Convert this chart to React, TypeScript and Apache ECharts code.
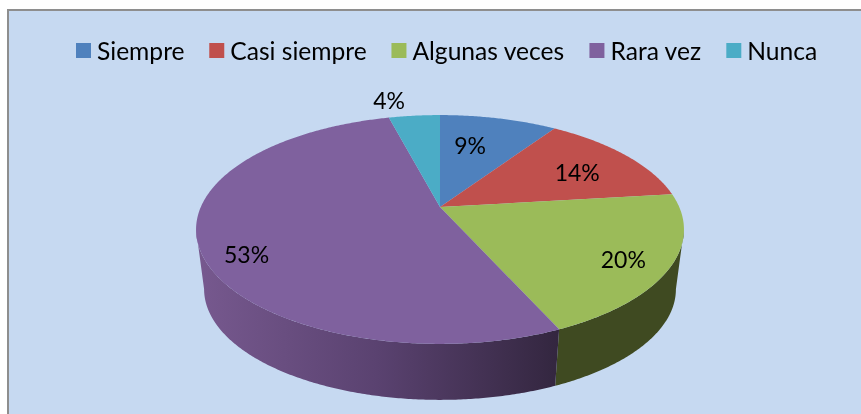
import React, { useEffect, useRef } from "react";
import * as echarts from "echarts";

const categories = ["Siempre", "Casi siempre", "Algunas veces", "Rara vez", "Nunca"];
const shares = [9.4, 13.7, 20.2, 52.6, 4.1];

const topColors = ["#4f81bd", "#c0504d", "#9bbb59", "#7f619e", "#4bacc6"];
const labelNudges = [[-13, 3], [4, 3], [27, 11], [-28, 20], [-32, -40]];

const FONT = "Lato, Carlito, sans-serif";
const APEX_X = 440;
const APEX_Y = 207;
const RADIUS_X = 239.2;
const RADIUS_Y = 110;
const PERSPECTIVE = 0.1965;
const WALL_DROP = 60.5;
const WALL_SCALE = 0.967;
const WALL_FROM = 101.3;
const WALL_TO = 258.7;

function project(deg: number, f: number, scale = 1, drop = 0): number[] {
  const t = (deg * Math.PI) / 180;
  const w = 1 + PERSPECTIVE * Math.cos(t) * f;
  return [
    APEX_X + (scale * RADIUS_X * Math.sin(t) * f) / w,
    APEX_Y + drop - (scale * RADIUS_Y * Math.cos(t) * f) / w,
  ];
}

function arc(from: number, to: number, scale = 1, drop = 0): number[][] {
  const n = Math.max(2, Math.ceil(Math.abs(to - from) * 2));
  const pts: number[][] = [];
  for (let i = 0; i <= n; i++) pts.push(project(from + ((to - from) * i) / n, 1, scale, drop));
  return pts;
}

function wallFill(index: number): any {
  if (index === 3) {
    return {
      type: "linear", x: 0, y: 0, x2: 1, y2: 0,
      colorStops: [
        { offset: 0, color: "#77598f" },
        { offset: 0.5, color: "#5a4270" },
        { offset: 1, color: "#33263f" },
      ],
    };
  }
  return ["#2f4a6f", "#6f2e2c", "#3f4a21", "#4b3a60", "#2c6574"][index];
}

export default function App() {
  const ref = useRef<HTMLDivElement>(null);
  useEffect(() => {
    const chart = echarts.init(ref.current!, null, { renderer: "svg" });
    const total = shares.reduce((a, b) => a + b, 0);
    const series = categories.map((name, idx) => ({
      type: "custom",
      name,
      coordinateSystem: "none",
      silent: true,
      itemStyle: { color: topColors[idx] },
      data: [[shares[idx]]],
      renderItem: (_p: any, api: any) => {
        const before = shares.slice(0, idx).reduce((a, b) => a + b, 0);
        const start = (before / total) * 360;
        const end = start + (api.value(0) / total) * 360;
        const children: any[] = [];
        const wFrom = Math.max(start, WALL_FROM);
        const wTo = Math.min(end, WALL_TO);
        if (wTo > wFrom) {
          children.push({
            type: "polygon",
            shape: {
              points: [...arc(wFrom, wTo), ...arc(wTo, wFrom, WALL_SCALE, WALL_DROP)],
            },
            style: { fill: wallFill(idx), stroke: null },
          });
        }
        children.push({
          type: "polygon",
          shape: { points: [[APEX_X, APEX_Y], ...arc(start, end)] },
          style: { fill: topColors[idx], stroke: null },
        });
        const mid = project((start + end) / 2, 0.7);
        children.push({
          type: "text",
          style: {
            text: `${Math.round((api.value(0) / total) * 100)}%`,
            x: mid[0] + labelNudges[idx][0],
            y: mid[1] + labelNudges[idx][1],
            fill: "#000",
            font: `23px ${FONT}`,
            textAlign: "center",
            textVerticalAlign: "middle",
          },
        });
        return { type: "group", children };
      },
    }));
    chart.setOption({
      animation: false,
      graphic: [
        {
          type: "rect",
          shape: { x: 8, y: 10, width: 870, height: 420 },
          style: { fill: "#c6d9f1", stroke: "#8e8e8e", lineWidth: 2 },
          z: 0,
        },
      ],
      legend: {
        data: categories,
        left: 71,
        top: 33,
        icon: "rect",
        itemWidth: 15,
        itemHeight: 15,
        itemGap: 24.7,
        selectedMode: false,
        textStyle: { fontFamily: FONT, fontSize: 24.6, color: "#000", padding: [0, 0, 0, 1] },
      },
      series,
    });
    return () => chart.dispose();
  }, []);
  return <div ref={ref} style={{ position: "fixed", left: 0, top: 0, width: 861, height: 414 }} />;
}
